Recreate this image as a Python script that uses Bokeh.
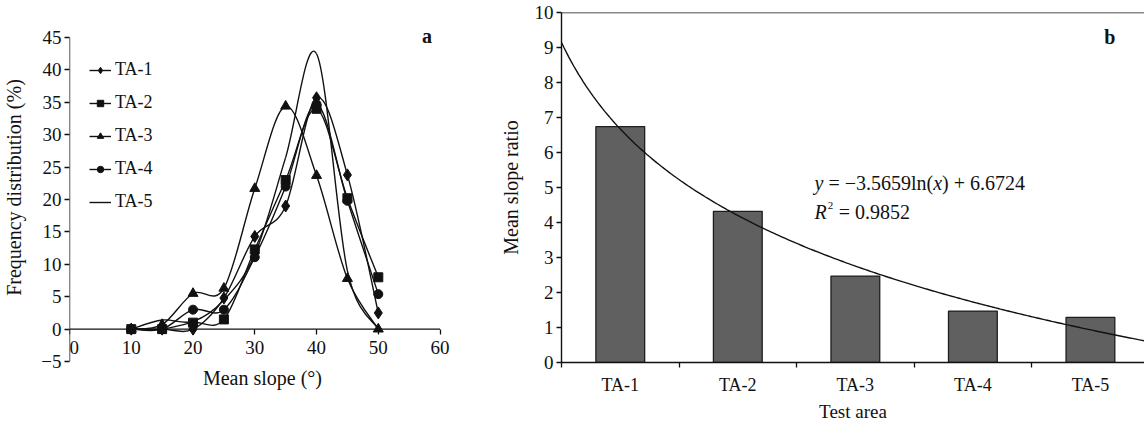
import numpy as np
from bokeh.plotting import figure
from bokeh.layouts import row
from bokeh.models import (Range1d, FixedTicker, Legend, LegendItem, Label, Span, Arrow,
                          LinearAxis)
from bokeh.embed import file_html
from bokeh.resources import INLINE

# ---------------- data: panel a ----------------
slopes = [10, 15, 20, 25, 30, 35, 40, 45, 50]
ta1 = [0, 0, 0, 4.8, 14.3, 19.0, 35.7, 23.8, 2.5]
ta2 = [0, 0, 1.0, 1.5, 12.3, 23.0, 34.0, 20.2, 8.0]
ta3 = [0, 0.7, 5.5, 6.3, 21.7, 34.4, 23.7, 7.8, 0]
ta4 = [0, 0, 3.0, 3.0, 11.1, 22.0, 34.7, 19.8, 5.4]
ta5 = [0, 1.4, 1.2, 4.5, 11.5, 26.5, 42.5, 9.0, 0]
series_names = ["TA-1", "TA-2", "TA-3", "TA-4", "TA-5"]
series_markers = ["diamond", "square", "triangle", "circle", None]
a_xticks = [0, 10, 20, 30, 40, 50, 60]
a_yticks = [-5, 0, 5, 10, 15, 20, 25, 30, 35, 40, 45]

# ---------------- data: panel b ----------------
areas = ["TA-1", "TA-2", "TA-3", "TA-4", "TA-5"]
ratios = [6.74, 4.32, 2.47, 1.47, 1.29]
fit_slope = -3.5659
fit_intercept = 6.6724
fit_r2 = 0.9852
b_yticks = list(range(0, 11))

FONT = "Liberation Serif"
INK = "#111111"
NB = "\u00a0"


def smooth(xs, ys):
    """Bezier control points for a smoothed line through the data points."""
    n = len(xs)
    out = dict(x0=[], y0=[], x1=[], y1=[], cx0=[], cy0=[], cx1=[], cy1=[])
    for i in range(n - 1):
        ip = max(i - 1, 0)
        i2 = min(i + 2, n - 1)
        out["x0"].append(xs[i]); out["y0"].append(ys[i])
        out["x1"].append(xs[i + 1]); out["y1"].append(ys[i + 1])
        out["cx0"].append(xs[i] + (xs[i + 1] - xs[ip]) / 6)
        out["cy0"].append(ys[i] + (ys[i + 1] - ys[ip]) / 6)
        out["cx1"].append(xs[i + 1] - (xs[i2] - xs[i]) / 6)
        out["cy1"].append(ys[i + 1] - (ys[i2] - ys[i]) / 6)
    return out


def style_axis(ax, size):
    ax.axis_line_color = INK
    ax.axis_line_width = 1.4
    ax.major_tick_line_color = INK
    ax.major_tick_line_width = 1.3
    ax.major_tick_in = 0
    ax.major_tick_out = 5
    ax.minor_tick_line_color = None
    ax.major_label_text_font = FONT
    ax.major_label_text_font_size = size
    ax.major_label_text_color = INK
    ax.major_label_standoff = 3
    ax.axis_label_text_font = FONT
    ax.axis_label_text_font_style = "normal"
    ax.axis_label_text_font_size = "20px"
    ax.axis_label_text_color = INK


HEIGHT, TOP, BOTTOM = 426, 12, 64

# ================= panel a =================
p1 = figure(width=480, height=HEIGHT, x_range=Range1d(0, 62.5), y_range=Range1d(-5.15, 48.86),
            output_backend="svg", toolbar_location=None, x_axis_location=None,
            min_border_left=69, min_border_right=25, min_border_top=TOP, min_border_bottom=BOTTOM)
p1.grid.visible = False
p1.outline_line_color = None

# x axis crossing at y = 0
xa = LinearAxis(ticker=FixedTicker(ticks=a_xticks), fixed_location=0)
style_axis(xa, "19px")
xa.axis_line_color = None
xa.major_label_overrides = {0: NB + NB + "0"}
p1.add_layout(xa, "below")
p1.add_layout(Arrow(end=None, x_start=a_xticks[0], y_start=0, x_end=a_xticks[-1], y_end=0,
                    line_color=INK, line_width=1.4))
# x axis title below the plot
xt = LinearAxis(ticker=FixedTicker(ticks=[]), axis_label="Mean slope (\u00b0)")
style_axis(xt, "0px")
xt.axis_line_color = None
xt.major_tick_line_color = None
xt.major_label_standoff = 0
xt.axis_label_standoff = 4
p1.add_layout(xt, "below")

p1.yaxis.ticker = FixedTicker(ticks=a_yticks)
p1.yaxis.major_label_overrides = {t: ("\u2212" + str(-t) if t < 0 else str(t)) for t in a_yticks}
p1.yaxis.axis_label = "Frequency distribution (%)"
style_axis(p1.yaxis[0], "19px")
p1.yaxis.axis_line_color = None
p1.yaxis.axis_label_standoff = 13
p1.add_layout(Arrow(end=None, x_start=0, y_start=a_yticks[0], x_end=0, y_end=a_yticks[-1],
                    line_color=INK, line_width=1.4))

items = []
for name, ys, mk in zip(series_names, [ta1, ta2, ta3, ta4, ta5], series_markers):
    seg = smooth(slopes, ys)
    r_line = p1.bezier(x0="x0", y0="y0", x1="x1", y1="y1", cx0="cx0", cy0="cy0",
                       cx1="cx1", cy1="cy1", source=seg, line_color=INK, line_width=1.4)
    rends = [r_line]
    if mk is not None:
        size = {"diamond": 12, "square": 9, "triangle": 10, "circle": 9}[mk]
        r_pt = p1.scatter(slopes, ys, marker=mk, size=size, fill_color=INK, line_color=INK)
        rends.append(r_pt)
    items.append(LegendItem(label=name, renderers=rends))

legend = Legend(items=items, location=(20, 150), border_line_color=None,
                background_fill_alpha=0, padding=0, margin=0, spacing=12,
                glyph_width=22, glyph_height=16, label_height=21, label_standoff=4,
                label_text_font=FONT, label_text_font_size="18px", label_text_color=INK)
p1.add_layout(legend)

p1.add_layout(Label(x=57.9, y=45.2, text="a", text_font=FONT, text_font_style="bold",
                    text_font_size="20px", text_align="center", text_baseline="middle",
                    text_color=INK))

# ================= panel b =================
positions = list(range(1, len(areas) + 1))
p2 = figure(width=664, height=HEIGHT, x_range=Range1d(0.5, 5.46), y_range=Range1d(0, 10),
            output_backend="svg", toolbar_location=None,
            min_border_left=81, min_border_right=0, min_border_top=TOP, min_border_bottom=BOTTOM)
p2.grid.visible = False
p2.outline_line_color = None

p2.vbar(x=positions, top=ratios, width=0.415, fill_color="#606060",
        line_color="#1e1e1e", line_width=1.3)

xs = np.linspace(0.5, 5.46, 240)
p2.line(xs, fit_intercept + fit_slope * np.log(xs), line_color=INK, line_width=1.4)

p2.add_layout(Span(location=10, dimension="width", line_color=INK, line_width=1.5))

p2.xaxis.ticker = FixedTicker(ticks=positions,
                              minor_ticks=[v - 0.5 for v in positions] + [positions[-1] + 0.5])
p2.xaxis.major_label_overrides = {pos: a for pos, a in zip(positions, areas)}
p2.yaxis.ticker = FixedTicker(ticks=b_yticks)
p2.xaxis.axis_label = "Test area"
p2.yaxis.axis_label = "Mean slope ratio"
style_axis(p2.xaxis[0], "18px")
style_axis(p2.yaxis[0], "19px")
p2.xaxis.major_tick_out = 0
p2.xaxis.minor_tick_line_color = INK
p2.xaxis.minor_tick_line_width = 1.3
p2.xaxis.minor_tick_in = 0
p2.xaxis.minor_tick_out = 5
p2.xaxis.major_label_standoff = 7
p2.xaxis.axis_label_text_font_size = "19px"
p2.xaxis.axis_label_standoff = 3
p2.yaxis.axis_label_standoff = 10

eq_x, eq_y, r2_y = 2.653, 5.14, 4.29
fs = 20
lab = dict(text_font=FONT, text_font_size="%dpx" % fs, text_baseline="middle", text_color=INK)
w_y = 0.444 * fs
w_mid = (0.25 + 0.564 + 0.25 + 0.564 + 2.75 + 0.778 + 0.333) * fs
w_x = 0.444 * fs
p2.add_layout(Label(x=eq_x, y=eq_y, text="y", text_font_style="italic", **lab))
p2.add_layout(Label(x=eq_x, y=eq_y, x_offset=w_y,
                    text=NB + "=" + NB + "\u2212%.4fln(" % abs(fit_slope), **lab))
p2.add_layout(Label(x=eq_x, y=eq_y, x_offset=w_y + w_mid, text="x",
                    text_font_style="italic", **lab))
p2.add_layout(Label(x=eq_x, y=eq_y, x_offset=w_y + w_mid + w_x,
                    text=")" + NB + "+" + NB + "%.4f" % fit_intercept, **lab))
p2.add_layout(Label(x=eq_x, y=r2_y, text="R", text_font_style="italic", **lab))
p2.add_layout(Label(x=eq_x, y=r2_y, x_offset=0.611 * fs + 1, y_offset=7, text="2",
                    text_font=FONT, text_font_size="11px", text_baseline="middle",
                    text_color=INK))
p2.add_layout(Label(x=eq_x, y=r2_y, x_offset=0.611 * fs + 7,
                    text=NB + "=" + NB + "%.4f" % fit_r2, **lab))

p2.add_layout(Label(x=5.164, y=9.29, text="b", text_font=FONT, text_font_style="bold",
                    text_font_size="20px", text_align="center", text_baseline="middle",
                    text_color=INK))

layout = row(p1, p2)
open("out.html", "w").write(file_html(layout, INLINE))
